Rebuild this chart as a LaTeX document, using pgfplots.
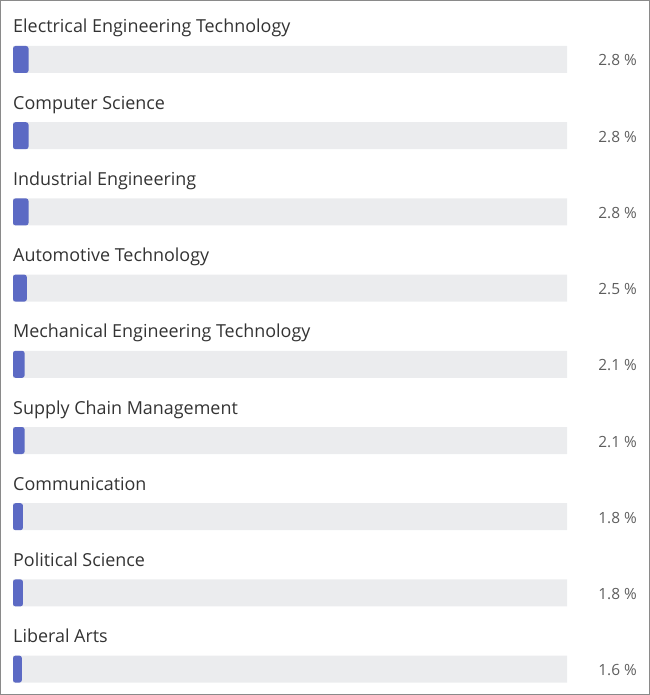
\documentclass[border=0pt]{standalone}
\usepackage{fontspec}
\setmainfont{Open Sans}
\usepackage{pgfplots}
\usepackage{pgfplotstable}
\pgfplotsset{compat=1.18}

\definecolor{barblue}{HTML}{5C6AC4}
\definecolor{track}{HTML}{EBECEE}
\definecolor{labeltext}{HTML}{333333}
\definecolor{valuetext}{HTML}{5E5E5E}
\definecolor{frame}{HTML}{8A8A8A}

% share of graduates by major (percent)
\pgfplotstableread{
pos value
0 2.8
1 2.8
2 2.8
3 2.5
4 2.1
5 2.1
6 1.8
7 1.8
8 1.6
}\majors

\begin{document}
\begin{tikzpicture}
\begin{axis}[
    xbar,
    scale only axis,
    width=554bp,
    height=695bp,
    xmin=0, xmax=100,
    ymin=-0.78084, ymax=8.33990,
    y dir=reverse,
    clip=false,
    axis line style={draw=none},
    major tick length=0pt,
    xtick=\empty,
    ytick={0,...,8},
    yticklabels={Electrical Engineering Technology,Computer Science,Industrial Engineering,Automotive Technology,Mechanical Engineering Technology,Supply Chain Management,Communication,Political Science,Liberal Arts},
    yticklabel style={anchor=base west, inner sep=0pt, yshift=26.5bp,
        font=\fontsize{18}{21}\selectfont, text=labeltext},
    bar shift=0pt,
    bar width=27bp,
    /pgf/number format/assume math mode=true,
]
% grey tracks, carrying the value labels at the right
\addplot[fill=track, draw=none, point meta=explicit,
    nodes near coords={\pgfmathprintnumber[fixed,precision=1,fixed zerofill]{\pgfplotspointmeta}~\%},
    every node near coord/.style={anchor=base east, inner sep=0pt, xshift=70bp, yshift=-6.5bp,
        font=\fontsize{15.5}{18}\selectfont, text=valuetext}]
    table[x expr=100, y=pos, meta=value] {\majors};
% blue value bars
\addplot[fill=barblue, draw=none, rounded corners=2.5bp]
    table[x=value, y=pos] {\majors};

\path (axis cs:-2.3466,-0.78084) rectangle (axis cs:114.982,8.33990);
\draw[frame, line width=1bp] (axis cs:-2.2563,-0.77428) rectangle (axis cs:114.892,8.33334);
\end{axis}
\end{tikzpicture}
\end{document}
